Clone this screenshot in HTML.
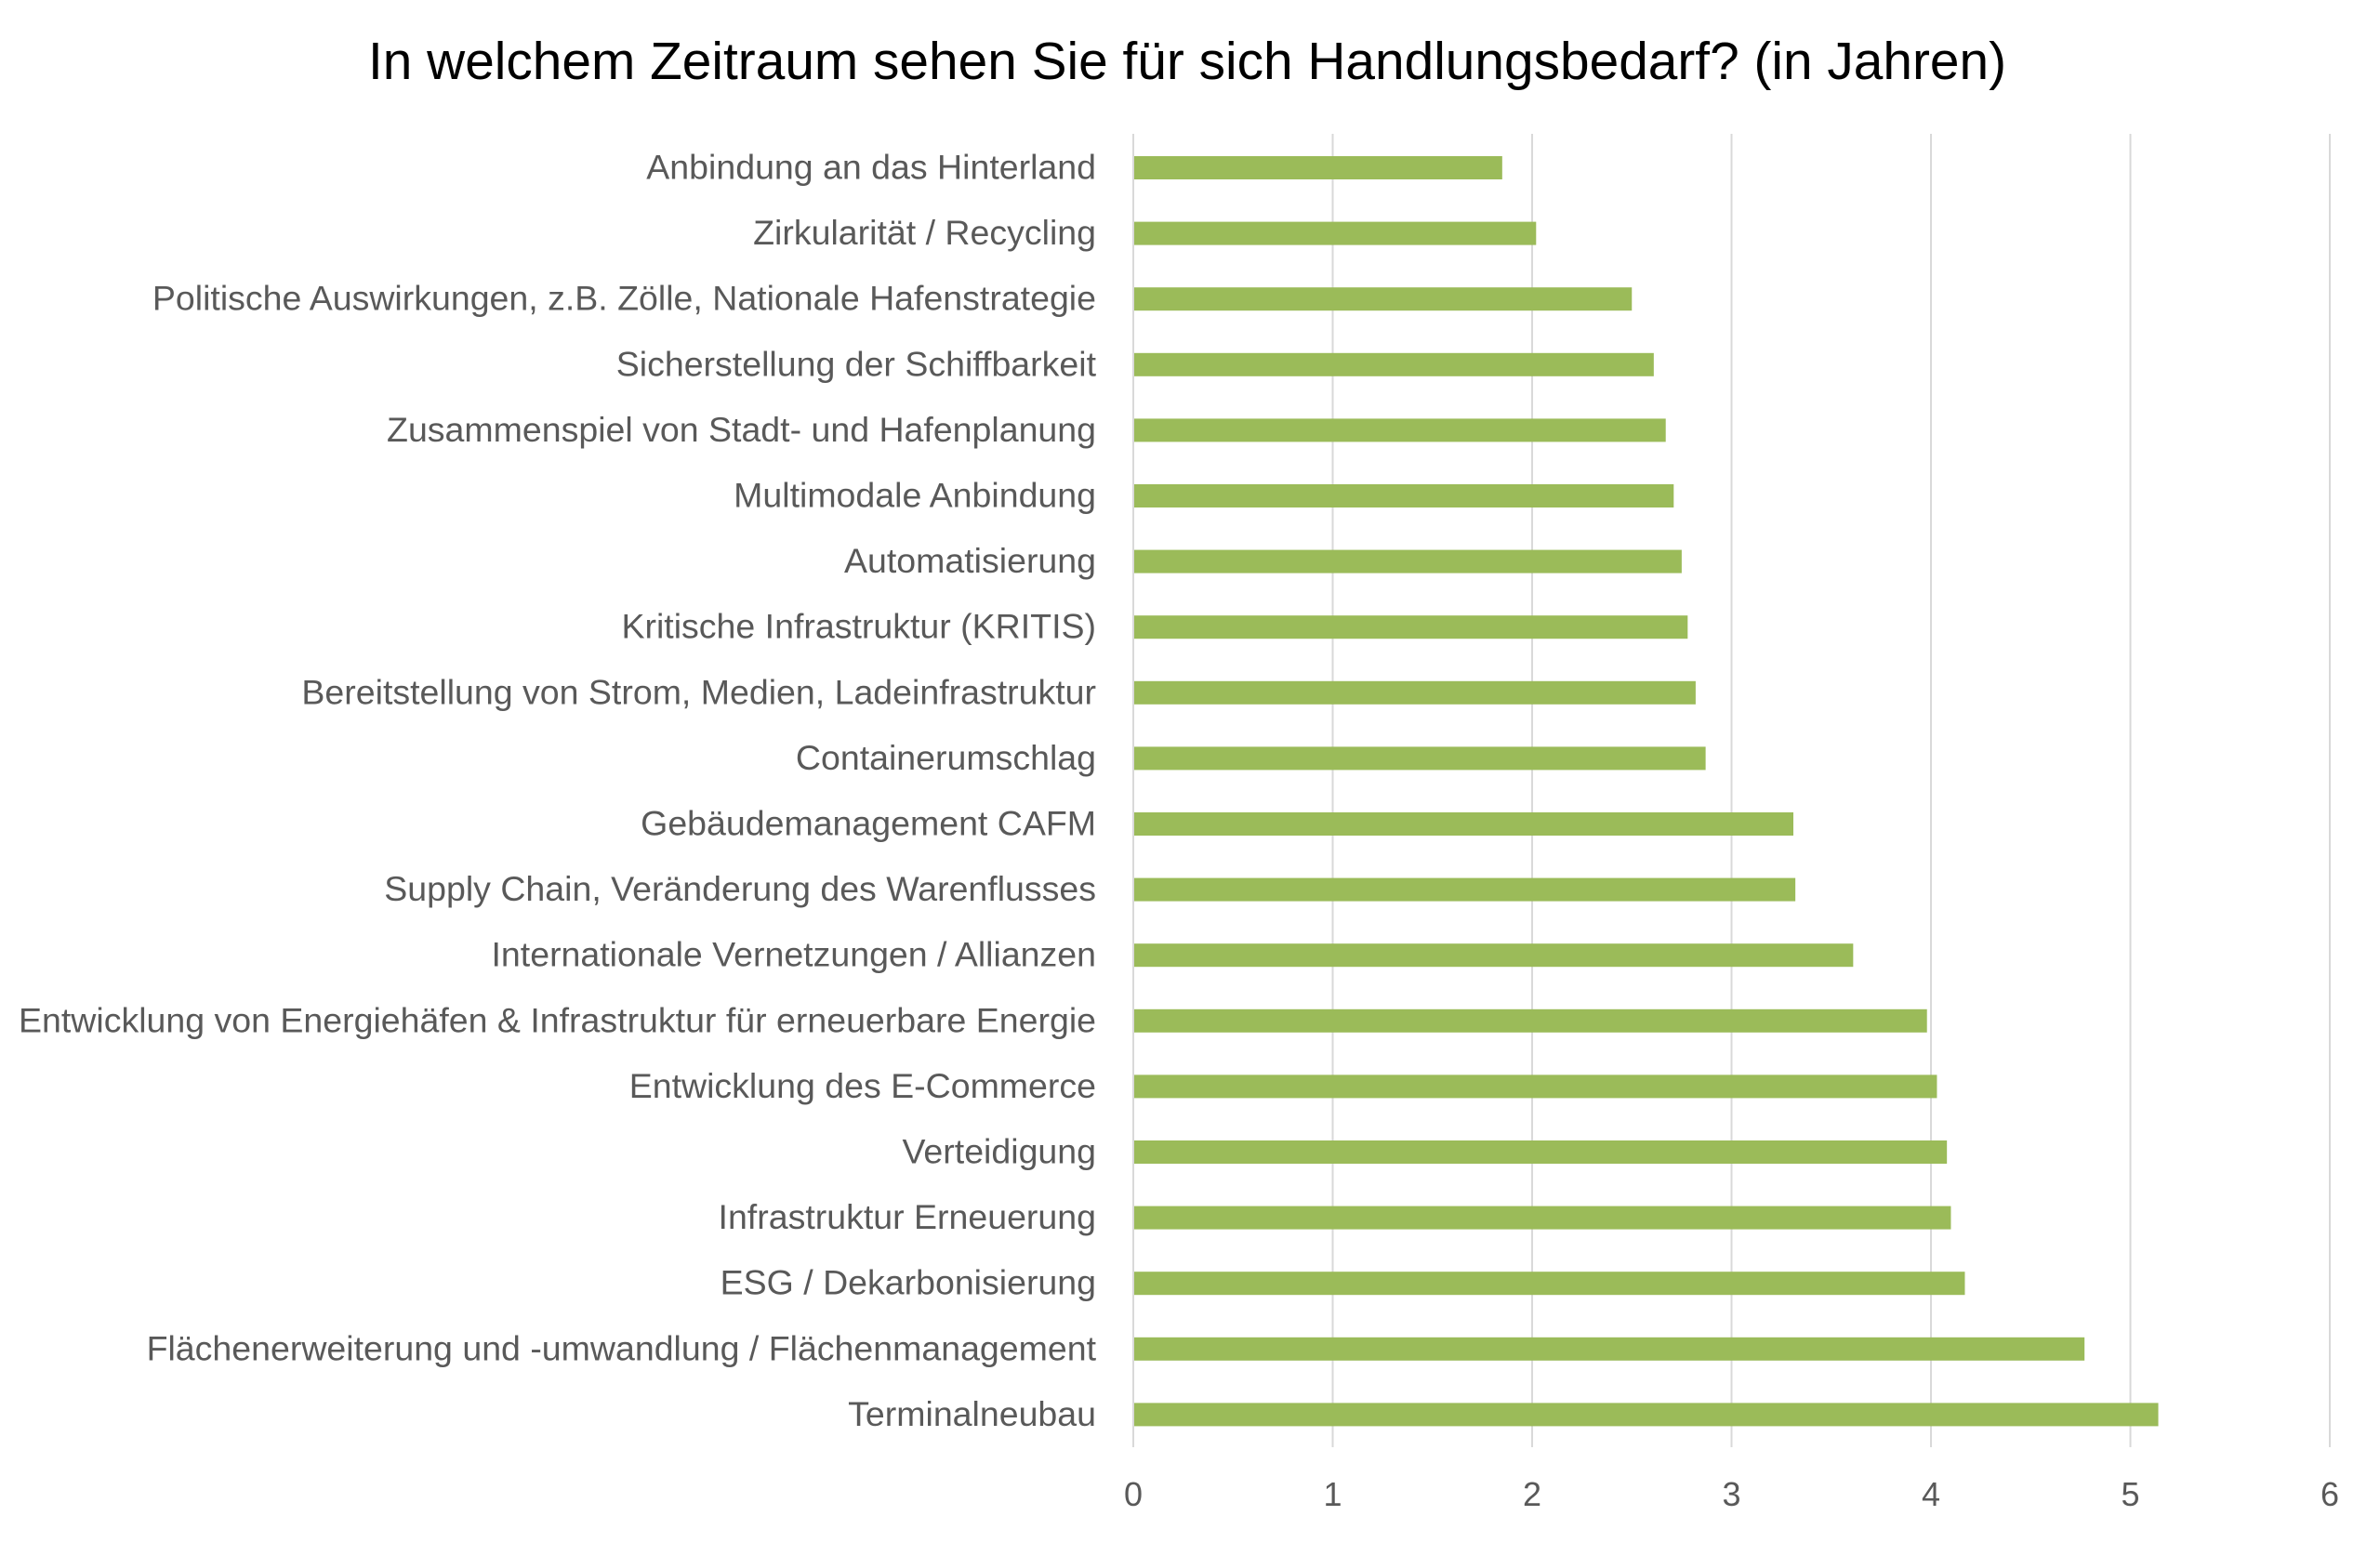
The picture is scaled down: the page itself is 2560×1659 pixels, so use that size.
<!DOCTYPE html>
<html><head><meta charset="utf-8"><style>
html,body{margin:0;padding:0;background:#fff;}
svg{display:block;}
</style></head><body>
<svg width="2560" height="1659" xmlns="http://www.w3.org/2000/svg" font-family="'Liberation Sans', sans-serif">
<rect width="2560" height="1659" fill="#fff"/>
<text x="1277" y="85" font-size="57" text-anchor="middle" fill="#000" textLength="1762" lengthAdjust="spacingAndGlyphs">In welchem Zeitraum sehen Sie für sich Handlungsbedarf? (in Jahren)</text>
<g stroke="#d9d9d9" stroke-width="2">
<line x1="1219" y1="144" x2="1219" y2="1557"/>
<line x1="1433.5" y1="144" x2="1433.5" y2="1557"/>
<line x1="1648" y1="144" x2="1648" y2="1557"/>
<line x1="1862.5" y1="144" x2="1862.5" y2="1557"/>
<line x1="2077" y1="144" x2="2077" y2="1557"/>
<line x1="2291.5" y1="144" x2="2291.5" y2="1557"/>
<line x1="2506" y1="144" x2="2506" y2="1557"/>
</g>
<g font-size="36" fill="#595959" text-anchor="middle">
<text x="1219" y="1620">0</text><text x="1433.5" y="1620">1</text><text x="1648" y="1620">2</text><text x="1862.5" y="1620">3</text><text x="2077" y="1620">4</text><text x="2291.5" y="1620">5</text><text x="2506" y="1620">6</text>
</g>
<g id="bars" fill="#9BBB59"></g>
<g id="labels" font-size="37.5" fill="#595959" text-anchor="end"></g>
<script>
var d=[["Anbindung an das Hinterland",1.85],["Zirkularität / Recycling",2.02],["Politische Auswirkungen, z.B. Zölle, Nationale Hafenstrategie",2.50],["Sicherstellung der Schiffbarkeit",2.61],["Zusammenspiel von Stadt- und Hafenplanung",2.67],["Multimodale Anbindung",2.71],["Automatisierung",2.75],["Kritische Infrastruktur (KRITIS)",2.78],["Bereitstellung von Strom, Medien, Ladeinfrastruktur",2.82],["Containerumschlag",2.87],["Gebäudemanagement CAFM",3.31],["Supply Chain, Veränderung des Warenflusses",3.32],["Internationale Vernetzungen / Allianzen",3.61],["Entwicklung von Energiehäfen & Infrastruktur für erneuerbare Energie",3.98],["Entwicklung des E-Commerce",4.03],["Verteidigung",4.08],["Infrastruktur Erneuerung",4.10],["ESG / Dekarbonisierung",4.17],["Flächenerweiterung und -umwandlung / Flächenmanagement",4.77],["Terminalneubau",5.14]];
var ns="http://www.w3.org/2000/svg",b=document.getElementById("bars"),l=document.getElementById("labels");
d.forEach(function(r,i){var c=180.5+i*70.6;
var e=document.createElementNS(ns,"rect");e.setAttribute("x",1220);e.setAttribute("y",c-12.5);e.setAttribute("width",r[1]*214.5-1);e.setAttribute("height",25);b.appendChild(e);
var t=document.createElementNS(ns,"text");t.setAttribute("x",1179);t.setAttribute("y",c+12);t.textContent=r[0];l.appendChild(t);});
</script>
</svg>
</body></html>
